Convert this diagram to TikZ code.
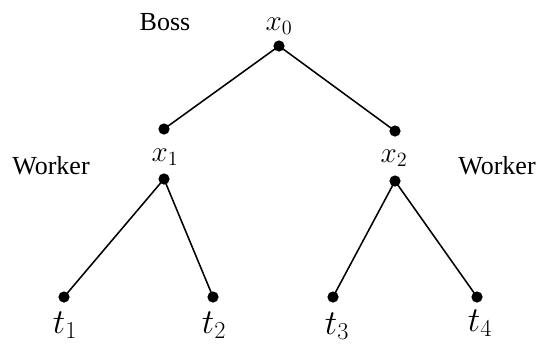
\documentclass[tikz,border=0pt]{standalone}
\usepackage{fontspec}
\setmainfont{Liberation Serif}
\newfontfamily\rolefont{Liberation Serif}
\usepackage{tikz}
\usetikzlibrary{positioning}

\begin{document}
\begin{tikzpicture}[
  x=0.025cm, y=-0.025cm,
  dot/.style={circle, fill, inner sep=0pt, minimum size=2.8mm},
  role/.style={font=\rolefont\fontsize{18.5}{20}\selectfont},
  var label/.style={font=\fontsize{20}{22}\selectfont, inner sep=1pt},
  leaf label/.style={font=\fontsize{25}{27}\selectfont, inner sep=1pt},
  branch/.style={line width=1.1pt}
]
  \useasboundingbox (0,0) rectangle (538,343);
  % decision points
  \node[dot] (x0) at (279,46)  {};
  \node[dot] (a1) at (164,129) {};
  \node[dot] (x1) at (164,179) {};
  \node[dot] (a2) at (395,131) {};
  \node[dot] (x2) at (395,181) {};
  % terminal points
  \node[dot] (t1) at (64,297)  {};
  \node[dot] (t2) at (213,297) {};
  \node[dot] (t3) at (333,297) {};
  \node[dot] (t4) at (477,297) {};
  % labels
  \node[var label] (lx0) at (279,26)  {$x_0$};
  \node[var label] (lx1) at (165,157) {$x_1$};
  \node[var label] (lx2) at (394,158) {$x_2$};
  \node[role] (boss)    at (165,22)  {Boss};
  \node[role] (workerL) at (51,166)  {Worker};
  \node[role] (workerR) at (497,166) {Worker};
  \node[leaf label] (lt1) at (65,325)  {$t_1$};
  \node[leaf label] (lt2) at (214,325) {$t_2$};
  \node[leaf label] (lt3) at (337,326) {$t_3$};
  \node[leaf label] (lt4) at (480,323) {$t_4$};
  % branches
  \draw[branch] (x0.center) -- (a1.center);
  \draw[branch] (x0.center) -- (a2.center);
  \draw[branch] (x1.center) -- (t1.center);
  \draw[branch] (x1.center) -- (t2.center);
  \draw[branch] (x2.center) -- (t3.center);
  \draw[branch] (x2.center) -- (t4.center);
\end{tikzpicture}
\end{document}
